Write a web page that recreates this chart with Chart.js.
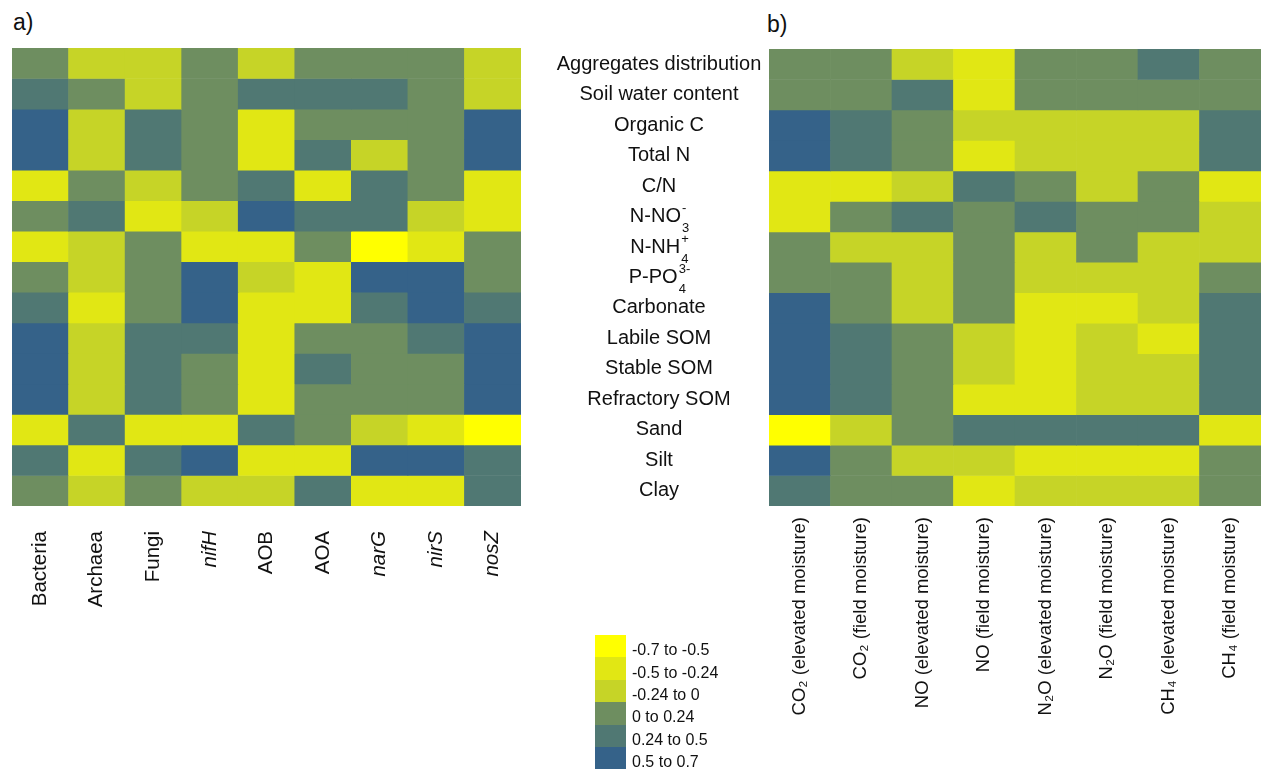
<!DOCTYPE html>
<html>
<head>
<meta charset="utf-8">
<title>Correlation heatmaps</title>
<script src="https://cdn.jsdelivr.net/npm/chart.js@4.4.1/dist/chart.umd.min.js"></script>
<style>
  html, body { margin: 0; padding: 0; background: #fff; }
  body { width: 1264px; height: 778px; position: relative; overflow: hidden;
         font-family: "Liberation Sans", Arial, sans-serif; color: #111; }
  #leftChart { position: absolute; left: 0; top: 0; }
  #rightChart { position: absolute; left: 540px; top: 0; }
  .panel { position: absolute; font-size: 23px; line-height: 23px; }
  #legend { position: absolute; left: 595px; top: 635px; }
  .key { display: flex; align-items: center; height: 22.4px; }
  .sw { width: 31px; height: 100%; }
  .kl { margin-left: 6px; font-size: 16px; position: relative; top: 4px; }
</style>
</head>
<body>
<div class="panel" style="left:13px;top:11px;">a)</div>
<div class="panel" style="left:767px;top:13px;">b)</div>
<canvas id="leftChart" width="545" height="778"></canvas>
<canvas id="rightChart" width="724" height="778"></canvas>
<div id="legend"></div>

<script>
// ---- soil properties (rows, top to bottom) ----
// "_" starts a subscript, "^" a superscript drawn stacked above it
const rowLabels = [
  "Aggregates distribution", "Soil water content", "Organic C", "Total N", "C/N",
  "N-NO_3^-", "N-NH_4^+", "P-PO_4^3-", "Carbonate", "Labile SOM", "Stable SOM",
  "Refractory SOM", "Sand", "Silt", "Clay"
];

// ---- correlation classes ----
const classLabels = ["-0.7 to -0.5", "-0.5 to -0.24", "-0.24 to 0", "0 to 0.24", "0.24 to 0.5", "0.5 to 0.7"];
const classBreaks = [-0.5, -0.24, 0, 0.24, 0.5];
const classColors = ["#ffff00", "#e1e714", "#c6d427", "#6e8e60", "#507873", "#356289"];

// ---- a) microbial groups and functional genes ----
const microbeLabels = ["Bacteria", "Archaea", "Fungi", "nifH", "AOB", "AOA", "narG", "nirS", "nosZ"];
const geneLabels = ["nifH", "narG", "nirS", "nosZ"]; // set in italics

const bacteria = [0.12, 0.37, 0.6, 0.6, -0.37, 0.12, -0.37, 0.12, 0.37, 0.6, 0.6, 0.6, -0.37, 0.37, 0.12];
const archaea  = [-0.12, 0.12, -0.12, -0.12, 0.12, 0.37, -0.12, -0.12, -0.37, -0.12, -0.12, -0.12, 0.37, -0.37, -0.12];
const fungi    = [-0.12, -0.12, 0.37, 0.37, -0.12, -0.37, 0.12, 0.12, 0.12, 0.37, 0.37, 0.37, -0.37, 0.37, 0.12];
const nifH     = [0.12, 0.12, 0.12, 0.12, 0.12, -0.12, -0.37, 0.6, 0.6, 0.37, 0.12, 0.12, -0.37, 0.6, -0.12];
const aob      = [-0.12, 0.37, -0.37, -0.37, 0.37, 0.6, -0.37, -0.12, -0.37, -0.37, -0.37, -0.37, 0.37, -0.37, -0.12];
const aoa      = [0.12, 0.37, 0.12, 0.37, -0.37, 0.37, 0.12, -0.37, -0.37, 0.12, 0.37, 0.12, 0.12, -0.37, 0.37];
const narG     = [0.12, 0.37, 0.12, -0.12, 0.37, 0.37, -0.6, 0.6, 0.37, 0.12, 0.12, 0.12, -0.12, 0.6, -0.37];
const nirS     = [0.12, 0.12, 0.12, 0.12, 0.12, -0.12, -0.37, 0.6, 0.6, 0.37, 0.12, 0.12, -0.37, 0.6, -0.37];
const nosZ     = [-0.12, -0.12, 0.6, 0.6, -0.37, -0.37, 0.12, 0.12, 0.37, 0.6, 0.6, 0.6, -0.6, 0.37, 0.37];

// ---- b) trace gas fluxes ----
const fluxLabels = [
  "CO\u2082 (elevated moisture)", "CO\u2082 (field moisture)",
  "NO (elevated moisture)", "NO (field moisture)",
  "N\u2082O (elevated moisture)", "N\u2082O (field moisture)",
  "CH\u2084 (elevated moisture)", "CH\u2084 (field moisture)"
];

const co2Elevated = [0.12, 0.12, 0.6, 0.6, -0.37, -0.37, 0.12, 0.12, 0.6, 0.6, 0.6, 0.6, -0.6, 0.6, 0.37];
const co2Field    = [0.12, 0.12, 0.37, 0.37, -0.37, 0.12, -0.12, 0.12, 0.12, 0.37, 0.37, 0.37, -0.12, 0.12, 0.12];
const noElevated  = [-0.12, 0.37, 0.12, 0.12, -0.12, 0.37, -0.12, -0.12, -0.12, 0.12, 0.12, 0.12, 0.12, -0.12, 0.12];
const noField     = [-0.37, -0.37, -0.12, -0.37, 0.37, 0.12, 0.12, 0.12, 0.12, -0.12, -0.12, -0.37, 0.37, -0.12, -0.37];
const n2oElevated = [0.12, 0.12, -0.12, -0.12, 0.12, 0.37, -0.12, -0.12, -0.37, -0.37, -0.37, -0.37, 0.37, -0.37, -0.12];
const n2oField    = [0.12, 0.12, -0.12, -0.12, -0.12, 0.12, 0.12, -0.12, -0.37, -0.12, -0.12, -0.12, 0.37, -0.37, -0.12];
const ch4Elevated = [0.37, 0.12, -0.12, -0.12, 0.12, 0.12, -0.12, -0.12, -0.12, -0.37, -0.12, -0.12, 0.37, -0.37, -0.12];
const ch4Field    = [0.12, 0.12, 0.37, 0.37, -0.37, -0.12, -0.12, 0.12, 0.37, 0.37, 0.37, 0.37, -0.37, 0.12, 0.12];

const microbeColumns = [bacteria, archaea, fungi, nifH, aob, aoa, narG, nirS, nosZ];
const fluxColumns = [co2Elevated, co2Field, noElevated, noField, n2oElevated, n2oField, ch4Elevated, ch4Field];

// ---- helpers ----
const FONT = '"Liberation Sans", Arial, sans-serif';
Chart.defaults.font.family = FONT;
Chart.defaults.color = '#111';

function colorFor(v) {
  let k = 0;
  while (k < classBreaks.length && v >= classBreaks[k]) k++;
  return classColors[k];
}

// one floating-bar dataset per row; each bar spans [row, row + 1] on the reversed y scale
function rowDatasets(columns) {
  return rowLabels.map((_, r) => ({
    label: rowLabels[r],
    data: columns.map(() => [r, r + 1]),
    backgroundColor: columns.map(col => colorFor(col[r])),
    borderWidth: 0,
    grouped: false,
    barPercentage: 1,
    categoryPercentage: 1
  }));
}

function heatmap(canvasId, labels, columns, cfg) {
  return new Chart(document.getElementById(canvasId), {
    type: 'bar',
    data: { labels, datasets: rowDatasets(columns) },
    options: {
      responsive: false,
      animation: false,
      devicePixelRatio: 1,
      layout: { padding: cfg.padding },
      plugins: { legend: { display: false }, tooltip: { enabled: false }, title: { display: false } },
      scales: {
        x: {
          type: 'category',
          grid: { display: false, drawTicks: false },
          border: { display: false },
          ticks: {
            autoSkip: false,
            minRotation: 90,
            maxRotation: 90,
            padding: cfg.tickPadding,
            color: '#111',
            font: cfg.tickFont
          },
          afterFit(scale) { scale.height = cfg.axisHeight; }
        },
        y: { type: 'linear', min: 0, max: rowLabels.length, reverse: true, display: false }
      }
    },
    plugins: cfg.plugins || []
  });
}

// row names drawn centred in the gap to the left of panel b)
const rowLabelPlugin = {
  id: 'rowLabels',
  afterDraw(chart) {
    const { ctx, chartArea, scales: { y } } = chart;
    const cx = chartArea.left - 110;
    const big = '20px ' + FONT, small = '13px ' + FONT;
    ctx.save();
    ctx.fillStyle = '#111';
    ctx.textBaseline = 'middle';
    rowLabels.forEach((lab, i) => {
      const yc = y.getPixelForValue(i + 0.5);
      const m = lab.match(/^(.*?)_(.*?)\^(.*)$/);
      ctx.font = big;
      if (!m) {
        ctx.textAlign = 'center';
        ctx.fillText(lab, cx, yc);
        return;
      }
      const base = m[1], sub = m[2], sup = m[3];
      const bw = ctx.measureText(base).width;
      ctx.font = small;
      const sw = Math.max(ctx.measureText(sub).width, ctx.measureText(sup).width);
      const x0 = cx - (bw + sw) / 2;
      ctx.textAlign = 'left';
      ctx.font = big;
      ctx.fillText(base, x0, yc);
      ctx.font = small;
      ctx.fillText(sup, x0 + bw + 1, yc - 8);
      ctx.fillText(sub, x0 + bw + 1, yc + 12);
    });
    ctx.restore();
  }
};

heatmap('leftChart', microbeLabels, microbeColumns, {
  padding: { left: 12, top: 48, right: 24, bottom: 0 },
  axisHeight: 272,
  tickPadding: 25,
  tickFont: (ctx) => ({
    family: FONT,
    size: 20.5,
    style: geneLabels.includes(microbeLabels[ctx.index]) ? 'italic' : 'normal'
  })
});

heatmap('rightChart', fluxLabels, fluxColumns, {
  padding: { left: 229, top: 49, right: 3, bottom: 0 },
  axisHeight: 272,
  tickPadding: 11,
  tickFont: { family: FONT, size: 18.5 },
  plugins: [rowLabelPlugin]
});

// colour key
const legend = document.getElementById('legend');
classLabels.forEach((txt, k) => {
  const row = document.createElement('div');
  row.className = 'key';
  const sw = document.createElement('div');
  sw.className = 'sw';
  sw.style.background = classColors[k];
  const lb = document.createElement('span');
  lb.className = 'kl';
  lb.textContent = txt;
  row.appendChild(sw);
  row.appendChild(lb);
  legend.appendChild(row);
});
</script>
</body>
</html>
